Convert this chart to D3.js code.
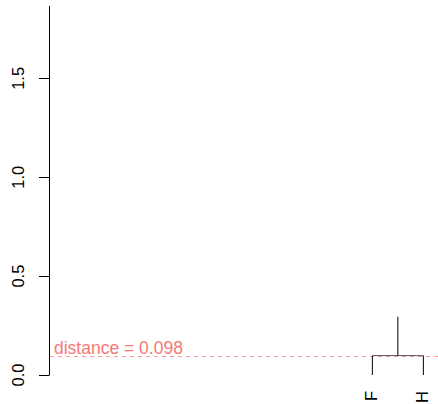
<!DOCTYPE html>
<html>
<head>
<meta charset="utf-8">
<script src="https://cdn.jsdelivr.net/npm/d3@7"></script>
<style>
  html, body { margin: 0; padding: 0; background: #fff; }
  svg { display: block; }
  text { font-family: "Liberation Sans", Arial, Helvetica, sans-serif; }
</style>
</head>
<body>
<svg id="chart" width="438" height="404"></svg>
<script>
// Leaves and their positions along the dendrogram axis
const leafLabels = ["F", "H"];
const leafPositions = [1, 2];
const leafHeights = [0, 0];
// Merge of the two leaves and the stem above it
const mergeHeight = 0.098;
const stemTop = 0.295;
// Cut line
const cutHeight = 0.098;
const cutLabel = "distance = 0.098";
// Y axis ticks
const yTicks = [0, 0.5, 1.0, 1.5];
const yTickLabels = ["0.0", "0.5", "1.0", "1.5"];
const yMax = 1.866;
const xDomain = [-5.34, 2.13];

const svg = d3.select("#chart");
const W = 438, H = 404;
const plot = { left: 49, right: 430, top: 6, bottom: 375 };

const x = d3.scaleLinear().domain(xDomain).range([plot.left, plot.right]);
const y = d3.scaleLinear().domain([0, yMax]).range([plot.bottom, plot.top]);

// Y axis
const yAxis = d3.axisLeft(y)
  .tickValues(yTicks)
  .tickFormat((d, i) => yTickLabels[i])
  .tickSize(10)
  .tickSizeOuter(0);

const gy = svg.append("g")
  .attr("transform", `translate(${plot.left},0)`)
  .call(yAxis);
gy.select(".domain").attr("stroke", "#000").attr("stroke-width", 1)
  .attr("d", `M0.5,${y(0)}V${y(yMax)}`);
gy.selectAll(".tick line").attr("stroke", "#000").attr("x1", 0.5);
gy.selectAll(".tick text")
  .attr("font-size", 16.5)
  .attr("fill", "#000")
  .attr("text-anchor", "middle")
  .attr("x", 0)
  .attr("dy", 0)
  .attr("transform", d => `translate(-25,${y(d)}) rotate(-90)`)
  .attr("y", 0);
gy.selectAll(".tick").attr("transform", null);
gy.selectAll(".tick line").attr("transform", d => `translate(0,${Math.round(y(d)) + 0.5})`);

// Cut line and its label
const cutY = Math.round(y(cutHeight)) + 0.5;
svg.append("line")
  .attr("x1", plot.left + 1).attr("x2", W)
  .attr("y1", cutY).attr("y2", cutY)
  .attr("stroke", "#FA9A9A")
  .attr("stroke-width", 1)
  .attr("stroke-dasharray", "4,4");

svg.append("text")
  .attr("x", plot.left + 5)
  .attr("y", cutY - 3)
  .attr("font-size", 17.5)
  .attr("fill", "#F67878")
  .text(cutLabel);

// Dendrogram branches
const g = svg.append("g").attr("stroke", "#000").attr("stroke-width", 1).attr("fill", "none");
const my = y(mergeHeight);
const mx = (x(leafPositions[0]) + x(leafPositions[1])) / 2;
leafPositions.forEach((p, i) => {
  g.append("line")
    .attr("x1", x(p)).attr("x2", x(p))
    .attr("y1", y(leafHeights[i])).attr("y2", my);
});
g.append("line")
  .attr("x1", x(leafPositions[0])).attr("x2", x(leafPositions[1]))
  .attr("y1", my).attr("y2", my)
  .attr("stroke", "#555");
g.append("line")
  .attr("x1", mx).attr("x2", mx)
  .attr("y1", my).attr("y2", y(stemTop));

// Leaf labels
svg.selectAll("text.leaf")
  .data(leafLabels)
  .join("text")
  .attr("class", "leaf")
  .attr("font-size", 16.5)
  .attr("fill", "#000")
  .attr("text-anchor", "end")
  .attr("transform", (d, i) => `translate(${x(leafPositions[i]) + 5},${y(0) + 16}) rotate(-90)`)
  .text(d => d);
</script>
</body>
</html>
